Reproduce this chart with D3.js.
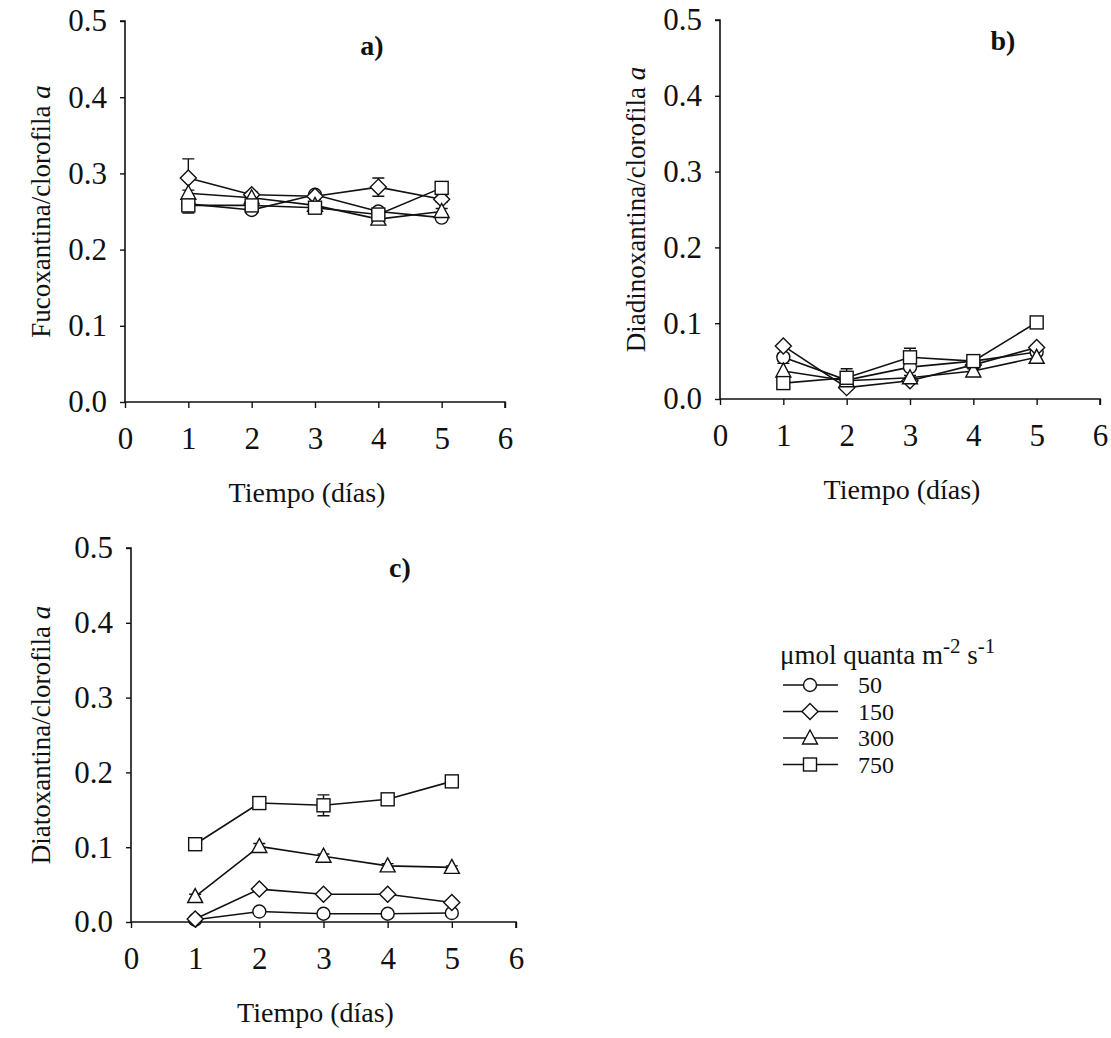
<!DOCTYPE html>
<html>
<head>
<meta charset="utf-8">
<script src="https://cdn.jsdelivr.net/npm/d3@7"></script>
<style>
    body { margin: 0; background: #fff; }
    svg text { font-family: "Liberation Serif", "DejaVu Serif", serif; fill: #111; }
</style>
</head>
<body>
<div id="graph"></div>
<script>
// Data
const days = [1, 2, 3, 4, 5];
const levels = ['50', '150', '300', '750'];
const symbols = ['circle', 'diamond', 'triangle', 'square'];
const yTicks = [0.0, 0.1, 0.2, 0.3, 0.4, 0.5];
const xTicks = [0, 1, 2, 3, 4, 5, 6];

// a) Fucoxantina
const fucoValues = [
    [0.260, 0.252, 0.272, 0.250, 0.242],
    [0.294, 0.272, 0.270, 0.282, 0.266],
    [0.274, 0.268, 0.258, 0.240, 0.250],
    [0.258, 0.258, 0.255, 0.246, 0.281]
];
const fucoErrors = [
    [0.004, 0.004, 0.003, 0.004, 0.003],
    [0.025, 0.004, 0.004, 0.012, 0.004],
    [0.004, 0.004, 0.004, 0.004, 0.004],
    [0.010, 0.004, 0.007, 0.006, 0.006]
];

// b) Diadinoxantina
const diadinoValues = [
    [0.055, 0.025, 0.042, 0.050, 0.062],
    [0.070, 0.015, 0.024, 0.045, 0.068],
    [0.037, 0.024, 0.028, 0.037, 0.055],
    [0.021, 0.028, 0.055, 0.050, 0.101]
];
const diadinoErrors = [
    [0.005, 0.003, 0.004, 0.003, 0.003],
    [0.003, 0.003, 0.003, 0.003, 0.003],
    [0.010, 0.003, 0.003, 0.003, 0.003],
    [0.003, 0.012, 0.012, 0.003, 0.003]
];

// c) Diatoxantina
const diatoValues = [
    [0.003, 0.014, 0.011, 0.011, 0.012],
    [0.004, 0.044, 0.037, 0.037, 0.026],
    [0.034, 0.101, 0.088, 0.075, 0.073],
    [0.104, 0.159, 0.156, 0.164, 0.188]
];
const diatoErrors = [
    [0.001, 0.002, 0.002, 0.002, 0.002],
    [0.001, 0.003, 0.003, 0.003, 0.003],
    [0.003, 0.004, 0.003, 0.003, 0.002],
    [0.003, 0.003, 0.014, 0.003, 0.003]
];

const w = 1111;
const h = 1038;
const serif = '"Liberation Serif", "DejaVu Serif", serif';

const svg = d3.select('#graph')
    .append('svg')
    .attr('width', w)
    .attr('height', h);

const panels = [
    { tag: 'a)', title: 'Fucoxantina/clorofila ', values: fucoValues, errors: fucoErrors,
      left: 125, right: 505, top: 21, bottom: 402, tagX: 372, tagY: 55, labelX: 50 },
    { tag: 'b)', title: 'Diadinoxantina/clorofila ', values: diadinoValues, errors: diadinoErrors,
      left: 720, right: 1100, top: 20, bottom: 399, tagX: 1003, tagY: 50, labelX: 645 },
    { tag: 'c)', title: 'Diatoxantina/clorofila ', values: diatoValues, errors: diatoErrors,
      left: 131, right: 516, top: 548, bottom: 922, tagX: 400, tagY: 577, labelX: 50 }
];

function marker(g, type, x, y) {
    let m;
    if (type === 'circle') {
        m = g.append('circle').attr('cx', x).attr('cy', y).attr('r', 6.5);
    } else if (type === 'square') {
        m = g.append('rect').attr('x', x - 6.5).attr('y', y - 6.5).attr('width', 13).attr('height', 13);
    } else if (type === 'diamond') {
        m = g.append('path').attr('d', `M${x},${y - 8}L${x + 8},${y}L${x},${y + 8}L${x - 8},${y}Z`);
    } else {
        m = g.append('path').attr('d', `M${x},${y - 8}L${x + 7.5},${y + 6}L${x - 7.5},${y + 6}Z`);
    }
    m.attr('fill', 'white').attr('stroke', '#111').attr('stroke-width', 1.4);
}

panels.forEach(p => {
    const xScale = d3.scaleLinear().domain([0, 6]).range([p.left, p.right]);
    const yScale = d3.scaleLinear().domain([0, 0.5]).range([p.bottom, p.top]);
    const g = svg.append('g');

    // Axes
    const xAxis = d3.axisBottom(xScale).tickValues(xTicks).tickSize(6).tickPadding(19).tickFormat(d3.format('d'));
    const yAxis = d3.axisLeft(yScale).tickValues(yTicks).tickSize(5).tickPadding(13).tickFormat(d3.format('.1f'));

    const gx = g.append('g').attr('transform', `translate(0, ${p.bottom})`).call(xAxis);
    const gy = g.append('g').attr('transform', `translate(${p.left}, 0)`).call(yAxis);
    [gx, gy].forEach(a => {
        a.attr('font-family', null).attr('font-size', null);
        a.select('.domain').attr('stroke', '#111').attr('stroke-width', 1.6);
        a.selectAll('.tick line').attr('stroke', '#111').attr('stroke-width', 1.4);
        a.selectAll('.tick text')
            .style('font-family', serif)
            .style('font-size', '31px')
            .attr('fill', '#111');
    });
    gx.select('.domain').attr('d', `M${p.left},0H${p.right}V6`);
    gy.select('.domain').attr('d', `M-5,${p.top}H0V${p.bottom}`);

    // Labels
    g.append('text')
        .attr('x', (p.left + p.right) / 2 - 8)
        .attr('y', p.bottom + 100)
        .attr('text-anchor', 'middle')
        .style('font-size', '28px')
        .text('Tiempo (días)');

    const yl = g.append('text')
        .attr('transform', `translate(${p.labelX}, ${(p.top + p.bottom) / 2}) rotate(-90)`)
        .attr('text-anchor', 'middle')
        .style('font-size', '27px')
        .text(p.title);
    yl.append('tspan').style('font-style', 'italic').text('a');

    g.append('text')
        .attr('x', p.tagX)
        .attr('y', p.tagY)
        .attr('text-anchor', 'middle')
        .style('font-size', '28px')
        .style('font-weight', 'bold')
        .text(p.tag);

    const line = d3.line().x((d, i) => xScale(days[i])).y(d => yScale(d));

    // Lines
    p.values.forEach(vals => {
        g.append('path')
            .attr('d', line(vals))
            .attr('fill', 'none')
            .attr('stroke', '#111')
            .attr('stroke-width', 1.6);
    });

    // Error bars
    p.values.forEach((vals, s) => {
        vals.forEach((v, i) => {
            const e = p.errors[s][i];
            const cx = xScale(days[i]);
            const y1 = yScale(v + e);
            const y2 = yScale(v - e);
            g.append('path')
                .attr('d', `M${cx},${y1}V${y2}M${cx - 6},${y1}H${cx + 6}M${cx - 6},${y2}H${cx + 6}`)
                .attr('stroke', '#111')
                .attr('stroke-width', 1.4)
                .attr('fill', 'none');
        });
    });

    // Data points
    p.values.forEach((vals, s) => {
        vals.forEach((v, i) => marker(g, symbols[s], xScale(days[i]), yScale(v)));
    });
});

// Legend
const legend = svg.append('g').attr('transform', 'translate(780, 664)');

const title = legend.append('text')
    .attr('x', 0)
    .attr('y', 0)
    .style('font-size', '27px')
    .text('μmol quanta m');
title.append('tspan').attr('dy', -11).style('font-size', '21px').text('-2');
title.append('tspan').attr('dy', 11).text(' s');
title.append('tspan').attr('dy', -11).style('font-size', '21px').text('-1');

levels.forEach((lvl, i) => {
    const y = 21 + i * 26.5;
    legend.append('line')
        .attr('x1', 3)
        .attr('x2', 58)
        .attr('y1', y)
        .attr('y2', y)
        .attr('stroke', '#111')
        .attr('stroke-width', 1.4);
    marker(legend, symbols[i], 30, y);
    legend.append('text')
        .attr('x', 78)
        .attr('y', y + 8)
        .style('font-size', '24px')
        .text(lvl);
});
</script>
</body>
</html>
